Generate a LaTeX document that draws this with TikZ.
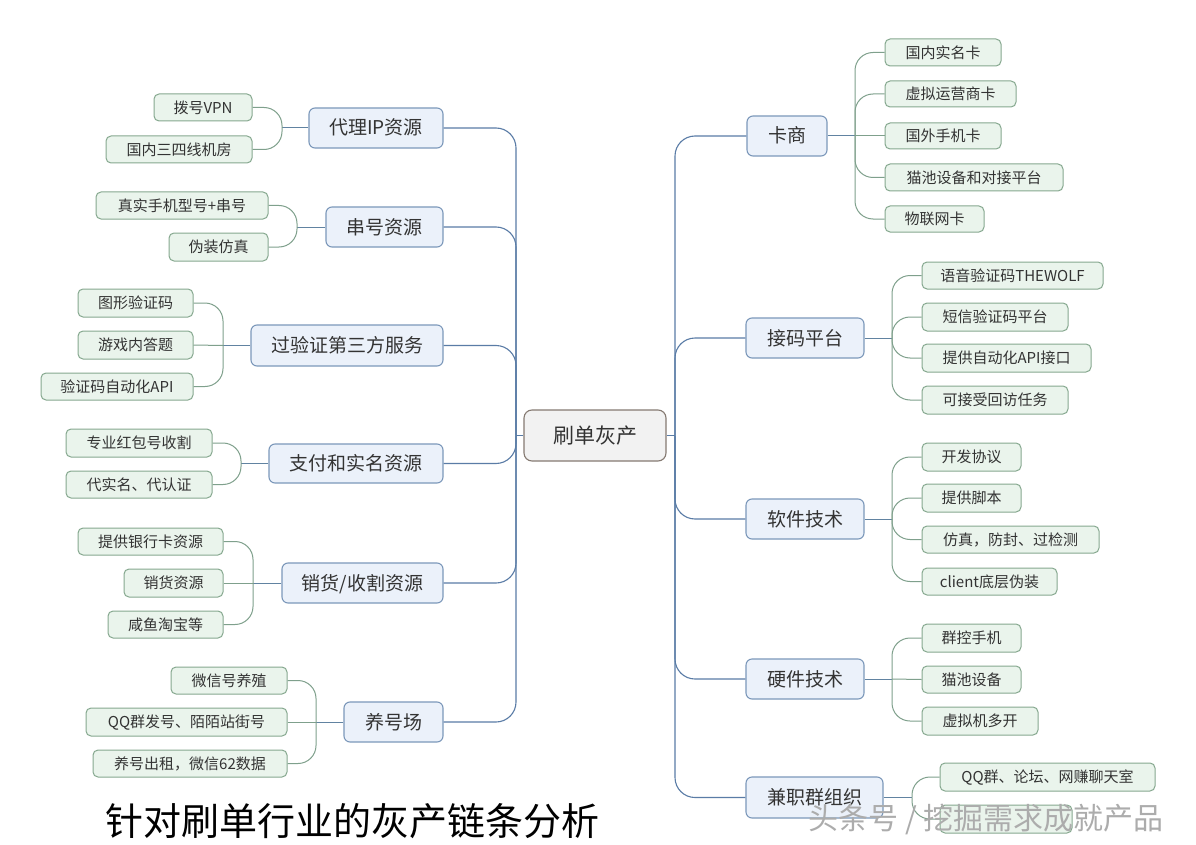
\documentclass[tikz,border=0pt]{standalone}
\usepackage{fontspec}
\setmainfont{Noto Sans CJK SC}
\usetikzlibrary{fit}
\definecolor{lonefill}{HTML}{EBF1FA}
\definecolor{loneborder}{HTML}{7C98BA}
\definecolor{leaffill}{HTML}{EAF4EC}
\definecolor{leafborder}{HTML}{86A88F}
\definecolor{rootfill}{HTML}{F2F2F2}
\definecolor{rootborder}{HTML}{857A72}
\definecolor{trunkc}{HTML}{5A7CA6}
\definecolor{leaflc}{HTML}{7FA08C}
\definecolor{txt}{HTML}{333333}
\newcommand\bx[7]{\node[#1, fit={(#2,#3) (#4,#5)}] (#6) {};
  \node[#1txt] (#6t) at (#6.center) {#7};}
\tikzset{
  base/.style={inner sep=0pt},
  lone/.style={base, draw=loneborder, fill=lonefill, rounded corners=6pt, line width=1.1pt},
  lonetxt/.style={inner sep=0pt, text=txt, anchor=base, yshift=-7pt, font=\fontsize{19}{19}\selectfont},
  leaf/.style={base, draw=leafborder, fill=leaffill, rounded corners=5pt, line width=1pt},
  leaftxt/.style={inner sep=0pt, text=txt, anchor=base, yshift=-5.6pt, font=\fontsize{15}{15}\selectfont},
  root/.style={base, draw=rootborder, fill=rootfill, rounded corners=8pt, line width=1.1pt},
  roottxt/.style={inner sep=0pt, text=txt, anchor=base, yshift=-7.8pt, font=\fontsize{21}{21}\selectfont},
  trunk/.style={draw=trunkc, line width=1.1pt, rounded corners=20pt},
  stub/.style={draw=trunkc!80!leaflc, line width=1pt},
  leafline/.style={draw=leaflc, line width=1pt, rounded corners=18pt},
}
\begin{document}
\begin{tikzpicture}[x=1pt,y=-1pt]
\useasboundingbox (0,0) rectangle (1196,845);
\fill[white] (0,0) rectangle (1196,845);

% root
\bx{root}{524}{410}{666}{461}{c}{刷单灰产}
\coordinate (lj) at (516,435.5);
\coordinate (rj) at (675,435.5);

% left level 1
\bx{lone}{309}{108}{443}{148}{a1}{代理IP资源}
\bx{lone}{326}{207}{443}{247}{a2}{串号资源}
\bx{lone}{251}{325}{443}{366}{a3}{过验证第三方服务}
\bx{lone}{269}{444}{443}{483}{a4}{支付和实名资源}
\bx{lone}{282}{563}{443}{603}{a5}{销货/收割资源}
\bx{lone}{344}{702}{443}{742}{a6}{养号场}

% right level 1
\bx{lone}{747}{116}{827}{156}{b1}{卡商}
\bx{lone}{746}{318}{864}{358}{b2}{接码平台}
\bx{lone}{746}{499}{864}{539}{b3}{软件技术}
\bx{lone}{746}{659}{864}{699}{b4}{硬件技术}
\bx{lone}{746}{777}{883}{818}{b5}{兼职群组织}

% trunk connectors
\draw[trunk] (c.west) -- (lj);
\draw[trunk] (c.east) -- (rj);
\foreach \n in {a1,a2,a3,a4,a5,a6} { \draw[trunk] (\n.east) -| (lj); }
\foreach \n in {b1,b2,b3,b4,b5} { \draw[trunk] (\n.west) -| (rj); }

% left leaves
\bx{leaf}{154}{94}{252}{121}{a1x}{拨号VPN}
\bx{leaf}{106}{136}{252}{163}{a1y}{国内三四线机房}
\bx{leaf}{96}{192}{268}{219}{a2x}{真实手机型号+串号}
\bx{leaf}{169}{233}{268}{261}{a2y}{伪装仿真}
\bx{leaf}{78}{289}{193}{317}{a3x}{图形验证码}
\bx{leaf}{78}{331}{193}{359}{a3y}{游戏内答题}
\bx{leaf}{41}{373}{193}{400}{a3z}{验证码自动化API}
\bx{leaf}{66}{429}{212}{457}{a4x}{专业红包号收割}
\bx{leaf}{66}{471}{212}{498}{a4y}{代实名、代认证}
\bx{leaf}{78}{528}{223}{555}{a5x}{提供银行卡资源}
\bx{leaf}{124}{569}{223}{597}{a5y}{销货资源}
\bx{leaf}{108}{611}{223}{638}{a5z}{咸鱼淘宝等}
\bx{leaf}{171}{667}{287}{694}{a6x}{微信号养殖}
\bx{leaf}{86}{708}{287}{736}{a6y}{QQ群发号、陌陌站街号}
\bx{leaf}{93}{750}{287}{777}{a6z}{养号出租，微信62数据}

\coordinate (ja1) at (282,128);
\coordinate (ja2) at (297,227);
\coordinate (ja3) at (223,345.5);
\coordinate (ja4) at (241,463.5);
\coordinate (ja5) at (253,583);
\coordinate (ja6) at (316,722);
\foreach \n in {1,...,6} { \draw[stub] (a\n.west) -- (ja\n); }
\draw[leafline] (a1x.east) -| (ja1);
\draw[leafline] (a1y.east) -| (ja1);
\draw[leafline] (a2x.east) -| (ja2);
\draw[leafline] (a2y.east) -| (ja2);
\draw[leafline] (a3x.east) -| (ja3);
\draw[leafline] (a3y.east) -- (ja3);
\draw[leafline] (a3z.east) -| (ja3);
\draw[leafline] (a4x.east) -| (ja4);
\draw[leafline] (a4y.east) -| (ja4);
\draw[leafline] (a5x.east) -| (ja5);
\draw[leafline] (a5y.east) -- (ja5);
\draw[leafline] (a5z.east) -| (ja5);
\draw[leafline] (a6x.east) -| (ja6);
\draw[leafline] (a6y.east) -- (ja6);
\draw[leafline] (a6z.east) -| (ja6);

% right leaves
\bx{leaf}{885}{39}{1001}{66}{b1a}{国内实名卡}
\bx{leaf}{885}{81}{1016}{107}{b1b}{虚拟运营商卡}
\bx{leaf}{885}{123}{1001}{149}{b1c}{国外手机卡}
\bx{leaf}{885}{164}{1063}{191}{b1d}{猫池设备和对接平台}
\bx{leaf}{885}{206}{984}{232}{b1e}{物联网卡}
\bx{leaf}{922}{262}{1103}{289}{b2a}{语音验证码THEWOLF}
\bx{leaf}{922}{303}{1068}{331}{b2b}{短信验证码平台}
\bx{leaf}{922}{344}{1091}{372}{b2c}{提供自动化API接口}
\bx{leaf}{922}{386}{1068}{414}{b2d}{可接受回访任务}
\bx{leaf}{922}{443}{1021}{471}{b3a}{开发协议}
\bx{leaf}{922}{484}{1021}{512}{b3b}{提供脚本}
\bx{leaf}{922}{526}{1099}{553}{b3c}{仿真，防封、过检测}
\bx{leaf}{922}{568}{1057}{595}{b3d}{client底层伪装}
\bx{leaf}{922}{624}{1021}{652}{b4a}{群控手机}
\bx{leaf}{922}{666}{1021}{693}{b4b}{猫池设备}
\bx{leaf}{922}{707}{1038}{735}{b4c}{虚拟机多开}
\bx{leaf}{940}{763}{1155}{791}{b5a}{QQ群、论坛、网赚聊天室}
\node[leaf, fit={(940,805) (1072,833)}] (b5b) {};

\coordinate (jb1) at (855,136);
\coordinate (jb2) at (892,338);
\coordinate (jb3) at (892,519);
\coordinate (jb4) at (892,679);
\coordinate (jb5) at (912,797.5);
\foreach \n in {1,...,5} { \draw[stub] (b\n.east) -- (jb\n); }
\draw[leafline] (b1a.west) -| (jb1);
\draw[leafline] (b1b.west) -| (jb1);
\draw[leafline] (b1c.west) -- (jb1);
\draw[leafline] (b1d.west) -| (jb1);
\draw[leafline] (b1e.west) -| (jb1);
\foreach \s in {a,b,c,d} { \draw[leafline] (b2\s.west) -| (jb2); }
\foreach \s in {a,b,c,d} { \draw[leafline] (b3\s.west) -| (jb3); }
\draw[leafline] (b4a.west) -| (jb4);
\draw[leafline] (b4b.west) -- (jb4);
\draw[leafline] (b4c.west) -| (jb4);
\draw[leafline] (b5a.west) -| (jb5);
\draw[leafline] (b5b.west) -| (jb5);

% title and watermark
\node[inner sep=0pt, text=black, anchor=base, font=\fontsize{38}{38}\selectfont] (title) at (352,835) {针对刷单行业的灰产链条分析};
\node[inner sep=0pt, text=gray!65, anchor=base, font=\fontsize{30}{30}\selectfont] (wm) at (986,829) {头条号 / 挖掘需求成就产品};
\end{tikzpicture}
\end{document}
